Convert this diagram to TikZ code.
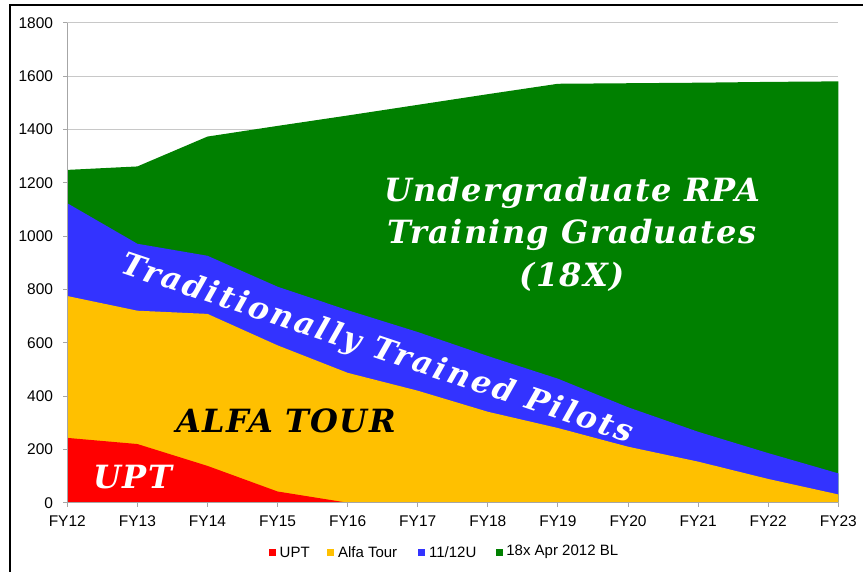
\documentclass[tikz,border=0pt]{standalone}
\usepackage{fontspec}
\setmainfont{Liberation Sans}
\newfontfamily\slabfont{DejaVu Serif}[LetterSpace=4]
\newfontfamily\slabwide{DejaVu Serif}[LetterSpace=8]
\usepackage{tikz}
\usetikzlibrary{positioning}

\definecolor{uptred}{HTML}{FF0000}
\definecolor{alfagold}{HTML}{FFC000}
\definecolor{ublue}{HTML}{3333FF}
\definecolor{rpagreen}{HTML}{008000}
\definecolor{gridgray}{HTML}{C8C8C8}
\definecolor{axisgray}{HTML}{A6A6A6}

\begin{document}
\begin{tikzpicture}[
  x=1pt, y=-1pt,
  ticklabel/.style={font=\fontsize{15.5}{15.5}\selectfont, inner sep=0pt},
  banner/.style={
    font=\fontsize{32}{42.5}\selectfont\slabfont\bfseries\itshape,
    align=center, inner sep=0pt
  },
  keybox/.style={rectangle, minimum size=7pt, inner sep=0pt},
  keytext/.style={font=\fontsize{15}{15}\selectfont, inner sep=0pt},
  grid line/.style={gridgray, line width=1pt},
  axis line/.style={axisgray, line width=1pt}
]
\useasboundingbox (0,0) rectangle (863,572);

% Frame
\draw[line width=2pt] (9.5,620) |- (900,5.5);

% Chart
\begin{scope}[shift={(67.3pt,-502.7pt)}, x=70.09pt, y=0.26667pt]
  \foreach \v in {200,400,...,1800}
    \draw[grid line] (0,\v) -- (11,\v);

  % stacked areas
  \fill[rpagreen] (0,0) -- plot coordinates {(0,1248) (1,1261) (2,1373)
    (3,1413) (4,1452) (5,1492) (6,1532) (7,1571) (8,1573) (9,1575)
    (10,1578) (11,1580)} -- (11,0) -- cycle;
  \fill[ublue] (0,0) -- plot coordinates {(0,1123) (1,971) (2,926)
    (3,810) (4,722) (5,640) (6,550) (7,465) (8,358) (9,266)
    (10,186) (11,110)} -- (11,0) -- cycle;
  \fill[alfagold] (0,0) -- plot coordinates {(0,775) (1,720) (2,708)
    (3,590) (4,487) (5,420) (6,341) (7,280) (8,210) (9,154)
    (10,89) (11,31)} -- (11,0) -- cycle;
  \fill[uptred] (0,0) -- plot coordinates {(0,243) (1,220) (2,138)
    (3,42) (4,0)} -- cycle;

  % axes
  \draw[axis line] (0,0) -- (0,1800);
  \draw[axis line] (0,0) -- (11,0);
  \foreach \v in {0,200,...,1800} {
    \draw[axis line] (0,\v) -- ++(-4pt,0pt);
    \node[ticklabel, anchor=east] (ylab\v) at (-0.2,\v) {\v};
  }
  \foreach \yr [count=\i from 0] in {12,...,23} {
    \draw[axis line] (\i,0) -- ++(0pt,-4pt);
    \node[ticklabel] (fy\yr) at (\i,-70) {FY\yr};
  }
\end{scope}

% Labels on the areas
\node[banner, text=white] (rpa) at (572,234)
  {Undergraduate RPA\\Training Graduates\\(18X)};
\node[banner, text=white, rotate=-18.5, font=\fontsize{31}{31}\selectfont\slabwide\bfseries\itshape]
  (tradpilots) at (377,350) {Traditionally Trained Pilots};
\node[banner, text=black] (alfa) at (286,421) {ALFA TOUR};
\node[banner, text=white] (upt) at (133,477) {UPT};

% Legend
\node[keybox, fill=uptred] (keyupt) at (272.3,552.3) {};
\node[keytext, right=3.5pt of keyupt] (keyupt-txt) {UPT};
\node[keybox, fill=alfagold] (keyalfa) at (330.6,552.3) {};
\node[keytext, right=3.5pt of keyalfa] (keyalfa-txt) {Alfa Tour};
\node[keybox, fill=ublue] (keyu) at (421.7,552.3) {};
\node[keytext, right=3.5pt of keyu] (keyu-txt) {11/12U};
\node[keybox, fill=rpagreen] (keyrpa) at (499,552.3) {};
\node[keytext, right=3.5pt of keyrpa] (keyrpa-txt) {18x Apr 2012 BL};
\end{tikzpicture}
\end{document}
